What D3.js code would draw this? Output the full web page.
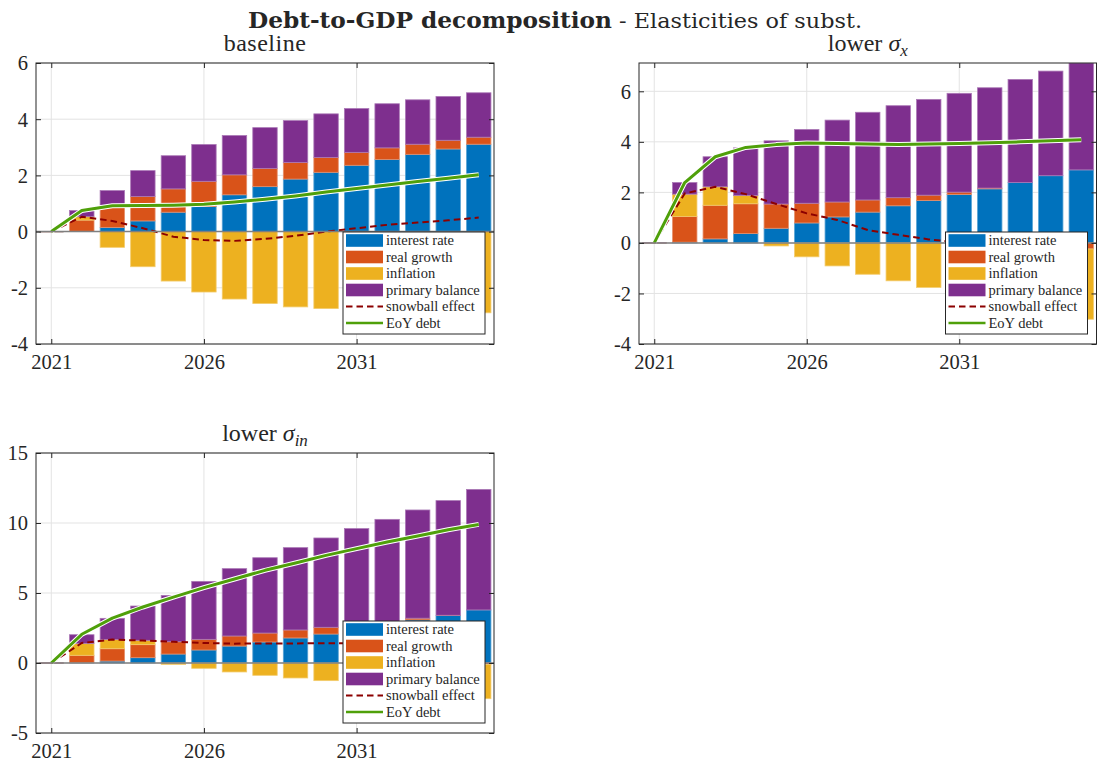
<!DOCTYPE html>
<html>
<head>
<meta charset="utf-8">
<script src="https://cdn.jsdelivr.net/npm/d3@7/dist/d3.min.js"></script>
<style>
  body { margin: 0; background: #fff; }
  text { font-family: "Liberation Serif", "Times New Roman", serif; fill: #262626; }
</style>
</head>
<body>
<svg id="fig" width="1097" height="762"></svg>
<script>
// Years on the horizontal axis
const years = [2021, 2022, 2023, 2024, 2025, 2026, 2027, 2028, 2029, 2030, 2031, 2032, 2033, 2034, 2035];
const xTicks = [2021, 2026, 2031];

const seriesNames = ["interest rate", "real growth", "inflation", "primary balance"];
const lineNames = ["snowball effect", "EoY debt"];

// --- baseline ---
const baseInterest  = [0, 0.01, 0.15, 0.38, 0.69, 0.89, 1.31, 1.60, 1.87, 2.11, 2.36, 2.57, 2.75, 2.94, 3.11];
const baseGrowth    = [0, 0.40, 0.77, 0.87, 0.83, 0.90, 0.71, 0.65, 0.59, 0.53, 0.46, 0.41, 0.36, 0.31, 0.25];
const baseInflation = [0, 0.12, -0.56, -1.25, -1.76, -2.15, -2.40, -2.56, -2.68, -2.74, -2.80, -2.84, -2.87, -2.89, -2.89];
const basePrimary   = [0, 0.22, 0.54, 0.92, 1.18, 1.31, 1.40, 1.45, 1.49, 1.55, 1.56, 1.57, 1.58, 1.56, 1.58];
const baseSnowball  = [0, 0.53, 0.38, 0.12, -0.18, -0.30, -0.33, -0.26, -0.15, 0.00, 0.12, 0.24, 0.32, 0.40, 0.50];
const baseDebt      = [0, 0.75, 0.92, 0.93, 0.94, 0.97, 1.05, 1.15, 1.27, 1.41, 1.53, 1.66, 1.78, 1.90, 2.02];

// --- lower sigma_x ---
const sxInterest  = [0, 0.03, 0.16, 0.37, 0.58, 0.79, 1.03, 1.22, 1.47, 1.68, 1.92, 2.14, 2.39, 2.66, 2.89];
const sxGrowth    = [0, 1.02, 1.33, 1.18, 0.96, 0.78, 0.59, 0.48, 0.32, 0.21, 0.09, 0.03, -0.05, -0.14, -0.24];
const sxInflation = [0, 0.88, 0.73, 0.33, -0.12, -0.55, -0.91, -1.24, -1.50, -1.76, -2.00, -2.22, -2.43, -2.62, -2.78];
const sxPrimary   = [0, 0.46, 1.19, 1.88, 2.50, 2.92, 3.24, 3.47, 3.64, 3.79, 3.91, 3.97, 4.08, 4.14, 4.23];
const sxSnowball  = [0, 1.96, 2.22, 1.93, 1.54, 1.17, 0.91, 0.51, 0.32, 0.14, 0.02, -0.03, -0.07, -0.09, -0.12];
const sxDebt      = [0, 2.39, 3.41, 3.78, 3.89, 3.95, 3.93, 3.91, 3.89, 3.91, 3.93, 3.96, 4.00, 4.04, 4.08];

// --- lower sigma_in ---
const sinInterest  = [0, 0.02, 0.14, 0.38, 0.64, 0.93, 1.21, 1.50, 1.79, 2.07, 2.38, 2.73, 3.08, 3.40, 3.79];
const sinGrowth    = [0, 0.53, 0.88, 0.93, 0.88, 0.76, 0.72, 0.64, 0.57, 0.48, 0.37, 0.24, 0.12, 0.01, -0.10];
const sinInflation = [0, 0.85, 0.65, 0.31, -0.10, -0.38, -0.64, -0.88, -1.07, -1.26, -1.46, -1.70, -1.95, -2.20, -2.45];
const sinPrimary   = [0, 0.62, 1.52, 2.45, 3.31, 4.14, 4.81, 5.38, 5.88, 6.38, 6.85, 7.29, 7.73, 8.19, 8.61];
const sinSnowball  = [0, 1.43, 1.67, 1.60, 1.52, 1.43, 1.38, 1.40, 1.40, 1.42, 1.41, 1.40, 1.40, 1.40, 1.40];
const sinDebt      = [0, 2.05, 3.21, 4.00, 4.71, 5.38, 6.00, 6.62, 7.14, 7.69, 8.17, 8.64, 9.07, 9.52, 9.90];

// y-axis ranges and ticks
const baseYDomain = [-4, 6],    baseYTicks = [-4, -2, 0, 2, 4, 6];
const sxYDomain   = [-4, 7.12], sxYTicks   = [-4, -2, 0, 2, 4, 6];
const sinYDomain  = [-5, 15],   sinYTicks  = [-5, 0, 5, 10, 15];

const barColors = ["#0072BD", "#D95319", "#EDB120", "#7E2F8E"];
const snowColor = "#8c0000";
const debtColor = "#4fa00a";

const panels = [
  { box: { x0: 36, x1: 494, y0: 63, y1: 344 },
    yDomain: baseYDomain, yTicks: baseYTicks,
    bars: [baseInterest, baseGrowth, baseInflation, basePrimary], snow: baseSnowball, debt: baseDebt, title: "baseline" },
  { box: { x0: 639, x1: 1096.5, y0: 63, y1: 344 },
    yDomain: sxYDomain, yTicks: sxYTicks,
    bars: [sxInterest, sxGrowth, sxInflation, sxPrimary], snow: sxSnowball, debt: sxDebt, title: "sigma", subscript: "x" },
  { box: { x0: 36, x1: 494, y0: 453, y1: 733 },
    yDomain: sinYDomain, yTicks: sinYTicks,
    bars: [sinInterest, sinGrowth, sinInflation, sinPrimary], snow: sinSnowball, debt: sinDebt, title: "sigma", subscript: "in" }
];

const svg = d3.select("#fig");

// Figure title
const sup = svg.append("text").attr("x", 248).attr("y", 28).attr("text-anchor", "start")
  .style("font-family", "'DejaVu Serif', serif");
sup.append("tspan").attr("font-weight", "bold").style("font-size", "22px")
  .attr("textLength", 364).attr("lengthAdjust", "spacingAndGlyphs")
  .text("Debt-to-GDP decomposition");
sup.append("tspan").style("font-size", "21px")
  .attr("textLength", 250).attr("lengthAdjust", "spacingAndGlyphs")
  .text(" - Elasticities of subst.");

panels.forEach(p => {
  const b = p.box;
  const g = svg.append("g");
  const x = d3.scaleLinear().domain([2020.5, 2035.5]).range([b.x0, b.x1]);
  const y = d3.scaleLinear().domain(p.yDomain).range([b.y1, b.y0]);
  const barW = x(2021.4) - x(2020.6);

  // clip to the axes box
  const clipId = "clip" + b.x0 + "_" + b.y0;
  svg.append("clipPath").attr("id", clipId)
    .append("rect").attr("x", b.x0).attr("y", b.y0).attr("width", b.x1 - b.x0).attr("height", b.y1 - b.y0);

  // grid
  g.selectAll(".gx").data(xTicks).join("line")
    .attr("x1", d => x(d)).attr("x2", d => x(d)).attr("y1", b.y0).attr("y2", b.y1)
    .attr("stroke", "#e3e3e3").attr("stroke-width", 1);
  g.selectAll(".gy").data(p.yTicks).join("line")
    .attr("x1", b.x0).attr("x2", b.x1).attr("y1", d => y(d)).attr("y2", d => y(d))
    .attr("stroke", "#e3e3e3").attr("stroke-width", 1);

  // stacked bars, positives stacked up from zero and negatives down
  const rows = years.map((yr, i) => {
    const r = { year: yr };
    seriesNames.forEach((n, k) => r[n] = p.bars[k][i]);
    return r;
  });
  const stacked = d3.stack().keys(seriesNames).offset(d3.stackOffsetDiverging)(rows);
  const plot = g.append("g").attr("clip-path", `url(#${clipId})`);
  stacked.forEach((layer, k) => {
    const col = barColors[k];
    const edge = d3.interpolateRgb(col, "#ffffff")(0.35);
    layer.forEach(seg => {
      const top = y(Math.max(seg[0], seg[1]));
      const bot = y(Math.min(seg[0], seg[1]));
      const xl = x(seg.data.year) - barW / 2;
      if (bot - top < 0.6) {
        plot.append("line").attr("x1", xl).attr("x2", xl + barW)
          .attr("y1", top).attr("y2", top)
          .attr("stroke", edge).attr("stroke-width", 1.2);
      } else {
        plot.append("rect").attr("x", xl).attr("y", top)
          .attr("width", barW).attr("height", bot - top)
          .attr("fill", col).attr("stroke", edge).attr("stroke-width", 0.8);
      }
    });
  });

  // zero baseline
  g.append("line").attr("x1", b.x0).attr("x2", b.x1).attr("y1", y(0)).attr("y2", y(0))
    .attr("stroke", "#7f7f7f").attr("stroke-width", 1.5);

  // snowball effect (dashed)
  const line = d3.line().x((d, i) => x(years[i])).y(d => y(d));
  plot.append("path").attr("d", line(p.snow)).attr("fill", "none")
    .attr("stroke", snowColor).attr("stroke-width", 2).attr("stroke-dasharray", "6.5,4");

  // end-of-year debt with a white halo
  plot.append("path").attr("d", line(p.debt)).attr("fill", "none")
    .attr("stroke", "#ffffff").attr("stroke-width", 5).attr("stroke-linejoin", "round");
  plot.append("path").attr("d", line(p.debt)).attr("fill", "none")
    .attr("stroke", debtColor).attr("stroke-width", 3).attr("stroke-linejoin", "round");

  // axes with inward ticks
  const fmt = d => String(d);
  const left = g.append("g").attr("transform", `translate(${b.x0},0)`)
    .call(d3.axisLeft(y).tickValues(p.yTicks).tickSizeInner(-5).tickSizeOuter(0).tickPadding(8).tickFormat(fmt));
  const right = g.append("g").attr("transform", `translate(${b.x1},0)`)
    .call(d3.axisRight(y).tickValues(p.yTicks).tickSizeInner(-5).tickSizeOuter(0).tickFormat(""));
  const bottom = g.append("g").attr("transform", `translate(0,${b.y1})`)
    .call(d3.axisBottom(x).tickValues(xTicks).tickSizeInner(-5).tickSizeOuter(0).tickPadding(10).tickFormat(fmt));
  const topAx = g.append("g").attr("transform", `translate(0,${b.y0})`)
    .call(d3.axisTop(x).tickValues(xTicks).tickSizeInner(-5).tickSizeOuter(0).tickFormat(""));
  [left, right, bottom, topAx].forEach(a => {
    a.select(".domain").remove();
    a.selectAll(".tick line").attr("stroke", "#262626");
    a.selectAll("text").style("font-size", "20.5px").style("font-family", "Liberation Serif, serif").attr("fill", "#262626");
  });
  left.selectAll("text").attr("dy", "0.34em");
  bottom.selectAll("text").attr("dy", "0.75em");

  g.append("rect").attr("x", b.x0).attr("y", b.y0).attr("width", b.x1 - b.x0).attr("height", b.y1 - b.y0)
    .attr("fill", "none").attr("stroke", "#262626").attr("stroke-width", 1);

  // panel title
  const t = g.append("text").attr("x", (b.x0 + b.x1) / 2).attr("y", b.y0 - 12)
    .attr("text-anchor", "middle").style("font-size", "24px");
  if (p.title === "baseline") {
    t.attr("letter-spacing", "0.5").text("baseline");
  } else {
    t.append("tspan").text("lower ");
    t.append("tspan").attr("font-style", "italic").text("σ");
    t.append("tspan").attr("font-style", "italic").attr("dy", 5).style("font-size", "17px").text(p.subscript);
  }

  // legend in the lower right corner
  const lw = 142, lh = 102;
  const lx = b.x1 - 9 - lw, ly = b.y1 - 10 - lh;
  const lg = g.append("g").attr("transform", `translate(${lx},${ly})`);
  lg.append("rect").attr("width", lw).attr("height", lh).attr("fill", "#fff")
    .attr("stroke", "#262626").attr("stroke-width", 1);
  const rowY = i => 8.5 + i * 16.5;
  seriesNames.forEach((n, i) => {
    lg.append("rect").attr("x", 3).attr("y", rowY(i) - 6.3).attr("width", 37).attr("height", 12.6)
      .attr("fill", barColors[i]);
    lg.append("text").attr("x", 43).attr("y", rowY(i)).attr("dy", "0.33em")
      .style("font-size", "14.5px").text(n);
  });
  lg.append("line").attr("x1", 3).attr("x2", 40).attr("y1", rowY(4)).attr("y2", rowY(4))
    .attr("stroke", snowColor).attr("stroke-width", 2).attr("stroke-dasharray", "6.5,4");
  lg.append("text").attr("x", 43).attr("y", rowY(4)).attr("dy", "0.33em").style("font-size", "14.5px").text(lineNames[0]);
  lg.append("line").attr("x1", 3).attr("x2", 40).attr("y1", rowY(5)).attr("y2", rowY(5))
    .attr("stroke", debtColor).attr("stroke-width", 2.5);
  lg.append("text").attr("x", 43).attr("y", rowY(5)).attr("dy", "0.33em").style("font-size", "14.5px").text(lineNames[1]);
});
</script>
</body>
</html>
